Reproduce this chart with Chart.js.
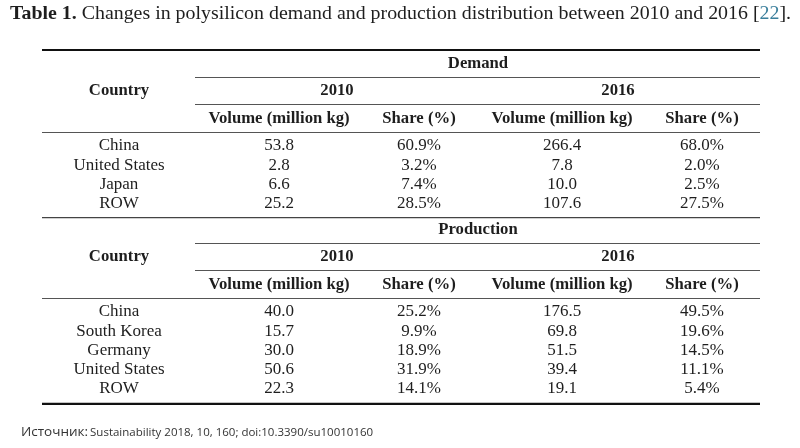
<!DOCTYPE html>
<html>
  <head>
    <title>Polysilicon demand and production table</title>
    <style>
      body {
        margin: 0;
        background: #fff;
      }
      .chart-container {
        position: relative;
        width: 800px;
        height: 448px;
      }
    </style>
  </head>
  <body>
    <div class="chart-container">
      <canvas id="table-chart"></canvas>
    </div>

    <script src="https://cdn.jsdelivr.net/npm/chart.js"></script>
    <script>
      // Data
      var years = ["2010", "2016"]
      var demandCountries = ["China", "United States", "Japan", "ROW"]
      var demandVolume2010 = [53.8, 2.8, 6.6, 25.2]
      var demandShare2010 = [60.9, 3.2, 7.4, 28.5]
      var demandVolume2016 = [266.4, 7.8, 10.0, 107.6]
      var demandShare2016 = [68.0, 2.0, 2.5, 27.5]
      var productionCountries = ["China", "South Korea", "Germany", "United States", "ROW"]
      var productionVolume2010 = [40.0, 15.7, 30.0, 50.6, 22.3]
      var productionShare2010 = [25.2, 9.9, 18.9, 31.9, 14.1]
      var productionVolume2016 = [176.5, 69.8, 51.5, 39.4, 19.1]
      var productionShare2016 = [49.5, 19.6, 14.5, 11.1, 5.4]

      // Layout (in scale units, x: 0..800, y: 0..448)
      var tableLeft = 42
      var tableRight = 760
      var groupLeft = 195
      var colX = [119, 279, 419, 562, 702]
      var yearX = [337, 618]
      var sectionTitleX = 478
      var sectionTops = [50, 216]
      var rowStep = 19.2

      var serif = '"Liberation Serif", "Times New Roman", serif'
      var sans = '"Open Sans", "DejaVu Sans", sans-serif'
      var textColor = "#1e1e1e"

      var sections = [
        {
          title: "Demand",
          countries: demandCountries,
          cols: [demandVolume2010, demandShare2010, demandVolume2016, demandShare2016],
        },
        {
          title: "Production",
          countries: productionCountries,
          cols: [productionVolume2010, productionShare2010, productionVolume2016, productionShare2016],
        },
      ]

      // Rules as line datasets
      var datasets = []
      function rule(x0, x1, y, width, color) {
        datasets.push({
          data: [
            { x: x0, y: y },
            { x: x1, y: y },
          ],
          showLine: true,
          pointRadius: 0,
          borderWidth: width,
          borderColor: color,
        })
      }

      sections.forEach(function (s, i) {
        var top = sectionTops[i]
        s.top = top
        s.bottom = top + 96 + (s.countries.length - 1) * rowStep + 14
        if (i === 0) rule(tableLeft, tableRight, top, 2.2, "#111")
        rule(groupLeft, tableRight, top + 27.5, 1.2, "#555")
        rule(groupLeft, tableRight, top + 54.5, 1.2, "#555")
        rule(tableLeft, tableRight, top + 82.5, 1.2, "#555")
      })
      rule(tableLeft, tableRight, sections[0].bottom, 1.2, "#444")
      rule(tableLeft, tableRight, sections[1].bottom + 1, 2.2, "#111")

      function fmt(v) {
        return v.toFixed(1)
      }

      var textPlugin = {
        id: "tableText",
        afterDatasetsDraw: function (chart) {
          var ctx = chart.ctx
          var sx = chart.scales.x
          var sy = chart.scales.y

          function put(text, x, y, font, align, color) {
            ctx.font = font
            ctx.textAlign = align || "center"
            ctx.textBaseline = "middle"
            ctx.fillStyle = color || textColor
            ctx.fillText(text, sx.getPixelForValue(x), sy.getPixelForValue(y))
            return ctx.measureText(text).width
          }

          ctx.save()

          // Title, stretched to the width of the original line
          var parts = [
            ["Table 1.", "bold 19px " + serif, textColor],
            [" Changes in polysilicon demand and production distribution between 2010 and 2016 [", "19px " + serif, textColor],
            ["22", "19px " + serif, "#3b7f9c"],
            ["].", "19px " + serif, textColor],
          ]
          var total = 0
          parts.forEach(function (p) {
            ctx.font = p[1]
            total += ctx.measureText(p[0]).width
          })
          var x0 = sx.getPixelForValue(10)
          var stretch = (sx.getPixelForValue(791) - x0) / total
          ctx.save()
          ctx.translate(x0, 0)
          ctx.scale(stretch, 1)
          var tx = 0
          parts.forEach(function (p) {
            ctx.font = p[1]
            ctx.textAlign = "left"
            ctx.textBaseline = "middle"
            ctx.fillStyle = p[2]
            ctx.fillText(p[0], tx, sy.getPixelForValue(14))
            tx += ctx.measureText(p[0]).width
          })
          ctx.restore()

          var bold = "bold 16.7px " + serif
          var reg = "17px " + serif

          sections.forEach(function (s) {
            var top = s.top
            put(s.title, sectionTitleX, top + 14, bold)
            put("Country", colX[0], top + 41, bold)
            years.forEach(function (yr, j) {
              put(yr, yearX[j], top + 41, bold)
            })
            for (var j = 0; j < 2; j++) {
              put("Volume (million kg)", colX[1 + j * 2], top + 69, bold)
              put("Share (%)", colX[2 + j * 2], top + 69, bold)
            }
            s.countries.forEach(function (c, r) {
              var y = top + 96 + r * rowStep
              put(c, colX[0], y, reg)
              s.cols.forEach(function (col, k) {
                var v = fmt(col[r]) + (k % 2 === 1 ? "%" : "")
                put(v, colX[k + 1], y, reg)
              })
            })
          })

          // Source
          var srcX = 21
          srcX += put("Источник:", srcX, 432, "13.5px " + sans, "left", "#333")
          put("Sustainability 2018, 10, 160; doi:10.3390/su10010160", srcX + 2, 433, "11.5px " + sans, "left", "#333")

          ctx.restore()
        },
      }

      var config = {
        type: "scatter",
        data: { datasets: datasets },
        options: {
          responsive: true,
          maintainAspectRatio: false,
          animation: false,
          layout: { padding: 0 },
          plugins: {
            legend: { display: false },
            tooltip: { enabled: false },
          },
          scales: {
            x: { type: "linear", min: 0, max: 800, display: false },
            y: { type: "linear", min: 0, max: 448, reverse: true, display: false },
          },
        },
        plugins: [textPlugin],
      }

      var ctx = document.getElementById("table-chart").getContext("2d")
      new Chart(ctx, config)
    </script>
  </body>
</html>
